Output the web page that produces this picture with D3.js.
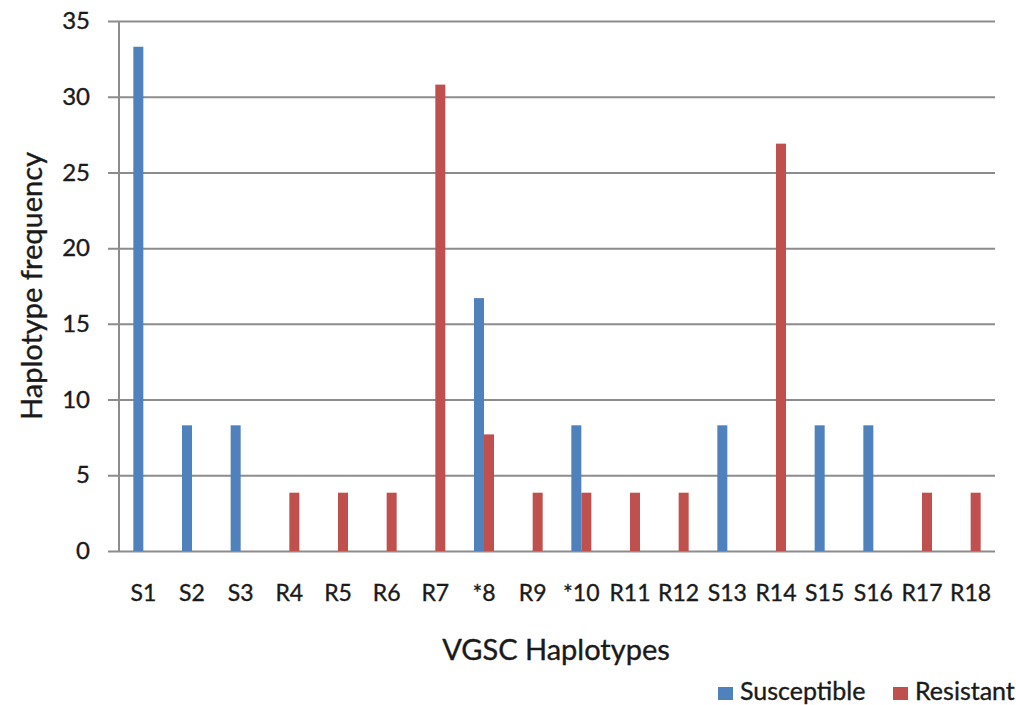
<!DOCTYPE html>
<html>
<head>
<meta charset="utf-8">
<script src="https://cdn.jsdelivr.net/npm/d3@7"></script>
<style>
  body { margin: 0; background: #fff; }
  text { font-family: Lato, "Open Sans", sans-serif; fill: #1a1a1a; stroke: #1a1a1a; stroke-width: 0.35px; }
</style>
</head>
<body>
<svg id="chart" width="1016" height="705"></svg>
<script>
// chart data
var categories = ['S1', 'S2', 'S3', 'R4', 'R5', 'R6', 'R7', '*8', 'R9', '*10',
    'R11', 'R12', 'S13', 'R14', 'S15', 'S16', 'R17', 'R18'];
var susceptible = [33.3, 8.3, 8.3, 0, 0, 0, 0, 16.7, 0, 8.3,
    0, 0, 8.3, 0, 8.3, 8.3, 0, 0];
var resistant = [0, 0, 0, 3.85, 3.85, 3.85, 30.8, 7.7, 3.85, 3.85,
    3.85, 3.85, 0, 26.9, 0, 0, 3.85, 3.85];
var seriesNames = ['Susceptible', 'Resistant'];
var seriesColors = ['#4F81BD', '#C0504D'];
var yTicks = [0, 5, 10, 15, 20, 25, 30, 35];

var svg = d3.select('#chart');
var plotLeft = 119, plotRight = 995, plotTop = 21, plotBottom = 551;
var gridColor = '#8c8c8c';

var x = d3.scaleBand()
    .domain(categories)
    .range([plotLeft, plotRight]);

var y = d3.scaleLinear()
    .domain([0, 35])
    .range([plotBottom, plotTop]);

var barW = 10;
var sub = d3.scaleBand()
    .domain(seriesNames)
    .range([x.bandwidth() / 2 - barW, x.bandwidth() / 2 + barW]);

// gridlines, sticking out 11px left of the axis as tick marks
var grid = svg.append('g')
    .attr('transform', 'translate(' + plotRight + ',0)')
    .call(d3.axisLeft(y).tickValues(yTicks).tickSize(plotRight - plotLeft + 11).tickFormat(''));
grid.select('.domain').remove();
grid.selectAll('.tick line').attr('stroke', gridColor).attr('stroke-width', 2);

// y tick labels
var labels = svg.append('g')
    .attr('transform', 'translate(' + (plotLeft - 11) + ',0)')
    .call(d3.axisLeft(y).tickValues(yTicks).tickSize(0).tickPadding(18));
labels.select('.domain').remove();
labels.selectAll('text')
    .attr('font-size', 24)
    .style('font-family', 'Lato, "Open Sans", sans-serif')
    .attr('fill', '#1a1a1a');

// vertical axis line
svg.append('line')
    .attr('x1', plotLeft).attr('x2', plotLeft)
    .attr('y1', plotTop).attr('y2', plotBottom)
    .attr('stroke', gridColor)
    .attr('stroke-width', 2);

// bars
var rows = categories.map(function(c, i) {
    return { cat: c, values: [susceptible[i], resistant[i]] };
});

var groups = svg.append('g').selectAll('g')
    .data(rows)
    .enter()
    .append('g')
    .attr('transform', function(d) { return 'translate(' + x(d.cat) + ',0)'; });

groups.selectAll('rect')
    .data(function(d) {
        return d.values.map(function(v, k) { return { name: seriesNames[k], value: v, k: k }; });
    })
    .enter()
    .append('rect')
    .attr('x', function(d) { return sub(d.name); })
    .attr('width', sub.bandwidth())
    .attr('y', function(d) { return y(d.value); })
    .attr('height', function(d) { return y(0) - y(d.value); })
    .attr('fill', function(d) { return seriesColors[d.k]; });

// x category labels
var xAxis = svg.append('g')
    .attr('transform', 'translate(0,' + plotBottom + ')')
    .call(d3.axisBottom(x).tickSize(0).tickPadding(34));
xAxis.select('.domain').remove();
xAxis.selectAll('text')
    .attr('font-size', 23)
    .style('font-family', 'Lato, "Open Sans", sans-serif')
    .attr('fill', '#1a1a1a');

// axis titles
svg.append('text')
    .attr('x', 556)
    .attr('y', 660)
    .attr('text-anchor', 'middle')
    .attr('font-size', 29)
    .text('VGSC Haplotypes');

svg.append('text')
    .attr('transform', 'translate(42,286) rotate(-90)')
    .attr('text-anchor', 'middle')
    .attr('font-size', 29)
    .text('Haplotype frequency');

// legend
var legendX = [718, 893];
var legend = svg.append('g').selectAll('g')
    .data(seriesNames)
    .enter()
    .append('g')
    .attr('transform', function(d, i) { return 'translate(' + legendX[i] + ',687)'; });

legend.append('rect')
    .attr('width', 15)
    .attr('height', 13)
    .attr('fill', function(d, i) { return seriesColors[i]; });

legend.append('text')
    .attr('x', 22)
    .attr('y', 13)
    .attr('font-size', 25)
    .text(function(d) { return d; });
</script>
</body>
</html>
